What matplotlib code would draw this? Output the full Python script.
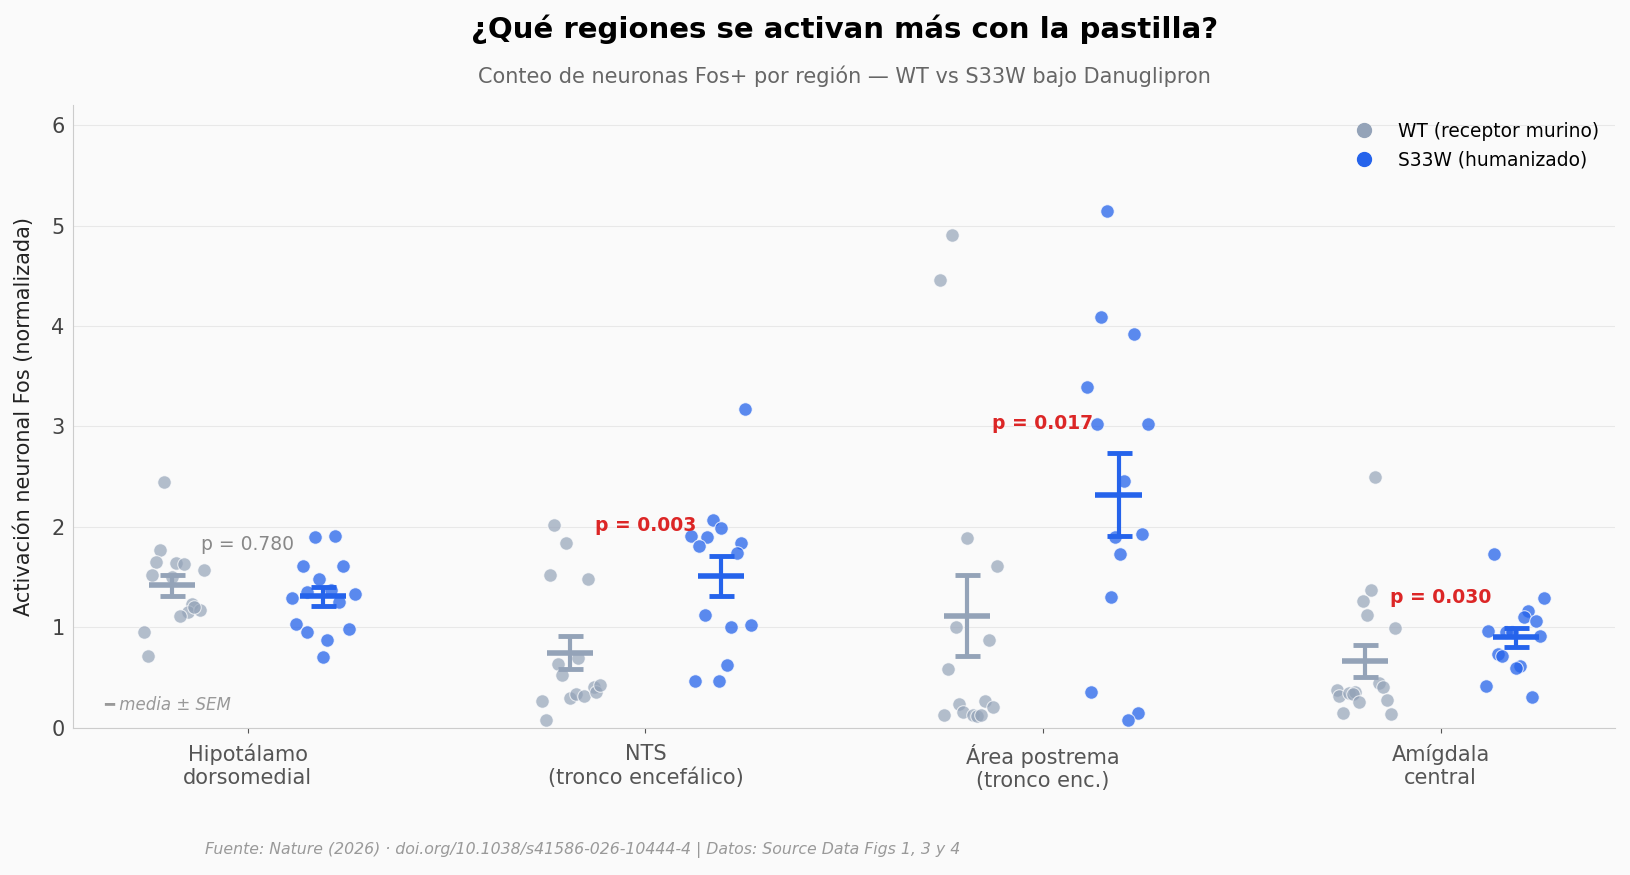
import numpy as np
import matplotlib.pyplot as plt
from matplotlib.lines import Line2D

# regiones y valores
regions = ["Hipotálamo\ndorsomedial", "NTS\n(tronco encefálico)",
           "Área postrema\n(tronco enc.)", "Amígdala\ncentral"]
p_values = [0.780, 0.003, 0.017, 0.030]

wt_vals = [
    [2.45, 1.77, 1.65, 1.64, 1.63, 1.57, 1.52, 1.50, 1.23, 1.15, 1.17, 1.11, 0.95, 0.71, 1.20],
    [2.02, 1.84, 1.52, 1.48, 0.69, 0.63, 0.53, 0.27, 0.08, 0.30, 0.34, 0.32, 0.41, 0.36, 0.43],
    [4.91, 4.46, 1.89, 1.61, 1.00, 0.87, 0.58, 0.13, 0.24, 0.16, 0.13, 0.12, 0.13, 0.27, 0.21],
    [2.50, 1.37, 1.26, 1.12, 0.99, 0.45, 0.41, 0.38, 0.32, 0.35, 0.36, 0.34, 0.26, 0.28, 0.15, 0.14],
]
wt_jit = [
    [-0.02, -0.03, -0.04, 0.01, 0.03, 0.08, -0.05, 0.0, 0.05, 0.04, 0.07, 0.02, -0.07, -0.06, 0.055],
    [-0.04, -0.01, -0.05, 0.045, 0.02, -0.03, -0.02, -0.07, -0.06, 0.0, 0.015, 0.035, 0.06, 0.065, 0.075],
    [-0.04, -0.07, 0.0, 0.075, -0.03, 0.055, -0.05, -0.06, -0.02, -0.01, 0.015, 0.025, 0.035, 0.045, 0.065],
    [0.025, 0.015, -0.005, 0.005, 0.075, 0.035, 0.045, -0.07, -0.065, -0.04, -0.025, -0.03, -0.015, 0.055, -0.055, 0.065],
]
s33w_vals = [
    [1.90, 1.91, 1.61, 1.61, 1.48, 1.35, 1.37, 1.29, 1.33, 1.25, 1.03, 0.95, 0.98, 0.87, 0.70],
    [3.17, 2.07, 1.99, 1.91, 1.90, 1.81, 1.84, 1.74, 1.12, 1.00, 1.02, 0.62, 0.47, 0.47],
    [5.14, 4.09, 3.92, 3.39, 3.02, 3.02, 2.46, 1.90, 1.93, 1.73, 1.30, 0.36, 0.15, 0.08],
    [1.73, 1.29, 1.16, 1.10, 1.06, 0.96, 0.95, 0.91, 0.73, 0.71, 0.61, 0.59, 0.42, 0.31, 0.955],
]
s33w_jit = [
    [-0.02, 0.03, -0.05, 0.05, -0.01, -0.04, 0.02, -0.08, 0.08, 0.04, -0.07, -0.04, 0.065, 0.01, 0.0],
    [0.06, -0.02, 0.0, -0.075, -0.035, -0.055, 0.05, 0.04, -0.04, 0.025, 0.075, 0.015, -0.065, -0.005],
    [-0.03, -0.045, 0.04, -0.08, -0.055, 0.075, 0.015, -0.01, 0.06, 0.005, -0.02, -0.07, 0.05, 0.025],
    [-0.055, 0.07, 0.03, 0.02, 0.05, -0.07, -0.025, 0.06, -0.045, -0.035, 0.01, 0.0, -0.075, 0.04, -0.01],
]

c_wt = "#94a3b8"
c_s = "#2563eb"
bg = "#fafafa"

fig = plt.figure(figsize=(16.3, 8.75), dpi=100, facecolor=bg)
ax = fig.add_axes([0.0447, 0.1683, 0.9464, 0.7117], facecolor=bg)

off = 0.19
for i in range(len(regions)):
    tops = []
    for vals, jit, col, sgn, a in [(wt_vals[i], wt_jit[i], c_wt, -1, 0.7),
                                   (s33w_vals[i], s33w_jit[i], c_s, 1, 0.75)]:
        v = np.array(vals)
        xc = i + sgn * off
        ax.scatter(xc + np.array(jit), v, s=95, color=col, alpha=a,
                   edgecolor="white", linewidth=0.8, zorder=3)
        m = v.mean()
        sem = v.std(ddof=1) / np.sqrt(len(v))
        ax.errorbar(xc, m, yerr=sem, color=col, lw=3, capsize=9, capthick=3.5,
                    zorder=4)
        ax.hlines(m, xc - 0.058, xc + 0.058, color=col, lw=4, zorder=4)
        tops.append(m + sem)
    p = p_values[i]
    if p < 0.05:
        ax.text(i, max(tops) + 0.3, f"p = {p:.3f}", ha="center", va="center",
                fontsize=13.5, color="#dc2626", fontweight="bold", zorder=5)
    else:
        ax.text(i, max(tops) + 0.3, f"p = {p:.3f}", ha="center", va="center",
                fontsize=13.5, color="#888888", zorder=5)

ax.set_xlim(-0.44, 3.44)
ax.set_ylim(0, 6.2)
ax.set_xticks(range(len(regions)))
ax.set_xticklabels(regions, fontsize=15, color="#555555")
ax.set_yticks(range(7))
ax.tick_params(axis="y", length=0, labelsize=15, labelcolor="#444444", pad=6)
ax.tick_params(axis="x", color="#555555", pad=8)
ax.set_ylabel("Activación neuronal Fos (normalizada)", fontsize=15, color="#222222",
              labelpad=12)
ax.grid(axis="y", color="#e8e8e8", lw=0.8)
ax.set_axisbelow(True)
for s in ["top", "right"]:
    ax.spines[s].set_visible(False)
for s in ["left", "bottom"]:
    ax.spines[s].set_color("#cccccc")

ax.text(0.02, 0.036, "━ media ± SEM", transform=ax.transAxes, fontsize=12,
        color="#999999", style="italic", va="center")

handles = [Line2D([], [], marker="o", ls="", color=c_wt, markersize=10),
           Line2D([], [], marker="o", ls="", color=c_s, markersize=10)]
ax.legend(handles, ["WT (receptor murino)", "S33W (humanizado)"], loc="upper right",
          frameon=False, fontsize=13.4, bbox_to_anchor=(1.0, 1.0))

cx = 0.0447 + 0.9464 / 2
fig.text(cx, 1 - 29 / 875, "¿Qué regiones se activan más con la pastilla?",
         ha="center", va="center", fontsize=21, fontweight="bold")
fig.text(cx, 1 - 76 / 875, "Conteo de neuronas Fos+ por región — WT vs S33W bajo Danuglipron",
         ha="center", va="center", fontsize=15, color="#666666")
fig.text(205 / 1630, 1 - 850 / 875,
         "Fuente: Nature (2026) · doi.org/10.1038/s41586-026-10444-4 | Datos: Source Data Figs 1, 3 y 4",
         ha="left", va="center", fontsize=11.3, color="#999999", style="italic")

plt.savefig("out.png", dpi=100, facecolor=bg)
